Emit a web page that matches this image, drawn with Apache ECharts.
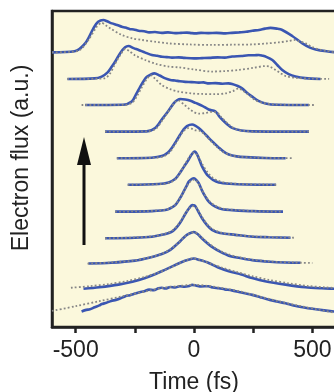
<!DOCTYPE html>
<html>
<head>
<meta charset="utf-8">
<script src="https://cdn.jsdelivr.net/npm/echarts@6/dist/echarts.min.js"></script>
<style>
  html, body { margin: 0; padding: 0; background: #ffffff; }
  #chart { width: 334px; height: 392px; }
</style>
</head>
<body>
<div id="chart"></div>
<script>
// Time-resolved electron flux traces, stacked from bottom (earliest) to top.
// Each trace: [time in fs, flux above its own baseline in a.u.]

// vertical stacking offset of each trace (bottom to top)
const offsets = [0.37, 1.39, 2.41, 3.37, 4.38, 5.40, 6.41, 7.42, 8.43, 9.42, 10.43];

// measured traces (solid blue), bottom to top
const measured11 = [[-475,0.22],[-455,0.28],[-440,0.30],[-420,0.38],[-400,0.45],[-390,0.50],[-370,0.55],[-350,0.62],[-330,0.66],[-310,0.72],[-290,0.80],[-270,0.84],[-249,0.90],[-230,0.95],[-210,0.99],[-190,1.05],[-170,1.03],[-150,1.10],[-136,1.12],[-120,1.09],[-100,1.15],[-80,1.13],[-60,1.18],[-40,1.16],[-20,1.19],[-8,1.23],[10,1.20],[30,1.17],[60,1.18],[80,1.13],[105,1.10],[130,1.06],[160,1.02],[190,0.96],[220,0.90],[246,0.85],[280,0.76],[320,0.66],[350,0.60],[387,0.53],[420,0.45],[460,0.38],[500,0.32],[550,0.26],[600,0.21]];
const measured10 = [[-467,0.06],[-400,0.12],[-319,0.22],[-260,0.33],[-206,0.47],[-160,0.63],[-121,0.79],[-85,0.94],[-51,1.08],[-20,1.17],[-1,1.21],[25,1.15],[62,1.04],[100,0.88],[147,0.73],[200,0.60],[246,0.47],[300,0.35],[387,0.22],[470,0.12],[540,0.08],[600,0.06]];
const measured9 = [[-446,0],[-350,0.03],[-249,0.11],[-190,0.22],[-136,0.36],[-100,0.52],[-65,0.79],[-45,0.97],[-30,1.09],[-1,1.20],[15,1.12],[34,0.95],[55,0.78],[76,0.63],[110,0.45],[147,0.30],[200,0.20],[246,0.13],[320,0.07],[387,0.04],[450,0.03]];
const measured8 = [[-376,0],[-250,0.02],[-178,0.06],[-130,0.14],[-93,0.25],[-70,0.45],[-51,0.70],[-35,0.95],[-20,1.15],[-8,1.26],[2,1.25],[15,1.07],[34,0.76],[55,0.50],[76,0.32],[110,0.20],[175,0.13],[250,0.06],[317,0.04],[408,0.02]];
const measured7 = [[-333,0],[-200,0.01],[-121,0.06],[-100,0.13],[-79,0.25],[-60,0.50],[-44,0.76],[-30,1.00],[-22,1.14],[-8,1.25],[0,1.27],[10,1.20],[20,1.08],[34,0.80],[48,0.57],[65,0.35],[90,0.19],[120,0.09],[161,0.06],[250,0.02],[376,0]];
const measured6 = [[-280,0],[-150,0.03],[-107,0.09],[-80,0.22],[-65,0.38],[-50,0.58],[-37,0.76],[-23,0.95],[-10,1.15],[3,1.26],[15,1.12],[34,0.70],[50,0.45],[62,0.32],[80,0.19],[105,0.09],[150,0.04],[220,0.01],[347,0]];
const measured5 = [[-326,0],[-180,0.02],[-136,0.08],[-110,0.22],[-93,0.40],[-75,0.65],[-58,0.90],[-45,1.08],[-30,1.22],[-8,1.28],[5,1.24],[20,1.15],[40,0.98],[62,0.77],[85,0.57],[105,0.40],[125,0.25],[147,0.14],[180,0.07],[218,0.04],[300,0.01],[387,0]];
const measured4 = [[-376,0],[-200,0.01],[-164,0.14],[-136,0.46],[-107,0.80],[-85,1.08],[-70,1.20],[-58,1.24],[-37,1.22],[-15,1.17],[6,1.09],[35,0.98],[62,0.84],[90,0.77],[105,0.60],[119,0.46],[140,0.28],[161,0.14],[200,0.04],[246,0.01],[486,0]];
const measured3 = [[-460,0],[-300,0.01],[-263,0.13],[-245,0.40],[-227,0.70],[-210,0.95],[-199,1.07],[-180,1.17],[-167,1.20],[-145,1.12],[-121,1.01],[-100,0.95],[-80,0.93],[-60,0.90],[-37,0.88],[-10,0.87],[20,0.85],[40,0.86],[62,0.82],[90,0.83],[120,0.81],[145,0.82],[161,0.80],[185,0.72],[203,0.63],[225,0.46],[246,0.32],[270,0.17],[302,0.06],[350,0.01],[486,0]];
const measured2 = [[-535,0],[-420,0.02],[-390,0.09],[-365,0.25],[-347,0.47],[-330,0.70],[-312,0.98],[-291,1.20],[-277,1.25],[-255,1.17],[-234,1.10],[-206,1.00],[-178,0.91],[-155,0.88],[-135,0.84],[-115,0.83],[-93,0.81],[-65,0.82],[-40,0.80],[0,0.78],[34,0.79],[65,0.80],[100,0.82],[130,0.81],[161,0.85],[200,0.87],[230,0.90],[255,0.90],[274,0.91],[290,0.88],[305,0.84],[331,0.72],[352,0.53],[373,0.34],[400,0.18],[429,0.09],[470,0.03],[535,0]];
const measured1 = [[-600,0],[-505,0.04],[-460,0.34],[-425,0.91],[-405,1.16],[-383,1.23],[-365,1.17],[-347,1.10],[-325,1.04],[-305,0.97],[-290,0.94],[-270,0.88],[-255,0.87],[-234,0.82],[-210,0.80],[-190,0.76],[-165,0.77],[-136,0.74],[-110,0.76],[-80,0.73],[-55,0.74],[-30,0.75],[-10,0.73],[6,0.72],[30,0.74],[60,0.73],[95,0.74],[133,0.72],[160,0.74],[190,0.76],[220,0.78],[246,0.82],[275,0.85],[300,0.90],[323,0.93],[350,0.90],[373,0.85],[415,0.62],[458,0.34],[490,0.18],[514,0.11],[560,0.04],[600,0]];

// simulated traces (grey dotted), bottom to top
const simulated11 = [[-600,0.24],[-500,0.42],[-400,0.61],[-300,0.80],[-200,0.99],[-136,1.11],[-60,1.19],[0,1.23],[60,1.19],[130,1.09],[200,0.97],[280,0.78],[360,0.60],[440,0.44],[520,0.30],[585,0.19]];
const simulated10 = [[-520,0.10],[-440,0.16],[-360,0.24],[-280,0.36],[-206,0.52],[-150,0.68],[-100,0.86],[-60,1.04],[-30,1.15],[-5,1.22],[25,1.16],[70,1.02],[120,0.86],[180,0.70],[250,0.53],[316,0.40],[400,0.27],[480,0.17],[560,0.11],[600,0.09]];
const simulated9 = [[-450,0],[-350,0.04],[-249,0.12],[-190,0.23],[-136,0.37],[-100,0.54],[-65,0.80],[-40,1.02],[-15,1.16],[0,1.19],[20,1.10],[40,0.93],[65,0.74],[95,0.56],[130,0.40],[180,0.26],[246,0.15],[320,0.08],[420,0.04],[500,0.02]];
const simulated8 = [[-376,0],[-250,0.03],[-178,0.07],[-130,0.15],[-93,0.28],[-70,0.48],[-50,0.74],[-32,1.00],[-15,1.17],[0,1.22],[15,1.10],[34,0.80],[55,0.54],[80,0.34],[115,0.21],[175,0.13],[250,0.07],[330,0.04],[422,0.02]];
const simulated7 = [[-333,0],[-200,0.02],[-121,0.07],[-100,0.14],[-79,0.27],[-58,0.52],[-40,0.82],[-25,1.05],[-8,1.20],[2,1.22],[15,1.12],[30,0.88],[48,0.60],[68,0.37],[95,0.20],[130,0.10],[180,0.06],[260,0.02],[376,0]];
const simulated6 = [[-280,0],[-140,0.03],[-100,0.09],[-75,0.24],[-55,0.52],[-35,0.82],[-15,1.12],[0,1.22],[15,1.12],[35,0.78],[55,0.50],[75,0.30],[100,0.16],[140,0.07],[200,0.03],[300,0.01],[347,0]];
const simulated5 = [[-326,0],[-170,0.02],[-130,0.07],[-105,0.20],[-85,0.45],[-65,0.75],[-45,1.02],[-25,1.14],[-10,1.12],[5,1.06],[25,1.04],[45,0.90],[70,0.66],[95,0.44],[120,0.26],[150,0.13],[190,0.06],[260,0.02],[415,0]];
const simulated4 = [[-376,0],[-195,0.01],[-160,0.12],[-130,0.48],[-100,0.88],[-80,1.12],[-65,1.18],[-45,1.05],[-20,0.86],[0,0.74],[20,0.68],[45,0.70],[75,0.75],[95,0.74],[115,0.55],[147,0.27],[175,0.10],[210,0.03],[260,0],[486,0]];
const simulated3 = [[-475,0],[-290,0.01],[-260,0.10],[-240,0.35],[-220,0.68],[-200,0.98],[-182,1.13],[-165,1.00],[-136,0.76],[-100,0.60],[-65,0.51],[-10,0.44],[34,0.42],[90,0.41],[133,0.44],[165,0.53],[189,0.63],[205,0.55],[232,0.38],[260,0.18],[290,0.09],[340,0.02],[514,0]];
const simulated2 = [[-535,0],[-380,0.02],[-355,0.20],[-335,0.55],[-312,0.90],[-290,1.14],[-272,1.05],[-250,0.90],[-206,0.72],[-160,0.57],[-107,0.47],[-65,0.44],[0,0.36],[76,0.28],[130,0.30],[189,0.34],[250,0.42],[302,0.49],[320,0.47],[345,0.34],[365,0.22],[387,0.11],[430,0.04],[500,0.01],[571,0]];
const simulated1 = [[-600,0],[-520,0.02],[-482,0.09],[-446,0.47],[-411,0.97],[-390,1.12],[-372,1.02],[-354,0.91],[-305,0.66],[-260,0.53],[-220,0.47],[-160,0.40],[-107,0.34],[-20,0.30],[76,0.28],[160,0.29],[246,0.30],[310,0.34],[359,0.38],[400,0.43],[422,0.47],[445,0.42],[472,0.34],[500,0.20],[528,0.11],[560,0.05],[600,0]];

// axis ticks
const majorTicks = [-500, 0, 500];
const allTicks = [-500, -250, 0, 250, 500];

const measured = [measured11, measured10, measured9, measured8, measured7, measured6, measured5, measured4, measured3, measured2, measured1];
const simulated = [simulated11, simulated10, simulated9, simulated8, simulated7, simulated6, simulated5, simulated4, simulated3, simulated2, simulated1];

const lift = (pts, off) => pts.map(p => [p[0], p[1] + off]);

const series = [];
measured.forEach((pts, i) => {
  series.push({
    type: 'line', data: lift(pts, offsets[i]), smooth: 0.3,
    symbol: 'none', silent: true, z: 2,
    lineStyle: { color: '#3a56b2', width: 2.6 }
  });
});
simulated.forEach((pts, i) => {
  series.push({
    type: 'line', data: lift(pts, offsets[i]), smooth: 0.3,
    symbol: 'none', silent: true, z: 3,
    lineStyle: { color: '#868686', width: 1.8, type: [1.8, 2.2] }
  });
});

const font = '"Liberation Sans", Arial, sans-serif';
const chart = echarts.init(document.getElementById('chart'));
chart.setOption({
  animation: false,
  backgroundColor: '#ffffff',
  grid: {
    left: 52, top: 11, width: 284, height: 316,
    outerBoundsMode: 'none', containLabel: false,
    show: true, backgroundColor: '#fbf8dc',
    borderColor: '#222222', borderWidth: 2.5
  },
  xAxis: {
    type: 'value', min: -600, max: 600,
    name: 'Time (fs)', nameLocation: 'middle', nameGap: 44,
    nameTextStyle: { fontFamily: font, fontSize: 23, color: '#222222' },
    axisLine: { show: true, onZero: false, lineStyle: { color: '#222222', width: 2.5 } },
    axisTick: { show: true, customValues: allTicks, length: 6, lineStyle: { color: '#222222', width: 2.5 } },
    axisLabel: { customValues: majorTicks, fontFamily: font, fontSize: 23, color: '#222222', margin: 12 },
    splitLine: { show: false }
  },
  yAxis: {
    type: 'value', min: 0, max: 12,
    name: 'Electron flux (a.u.)', nameLocation: 'middle', nameGap: 19,
    nameTextStyle: { fontFamily: font, fontSize: 23, color: '#222222', padding: [0, 0, 0, 22] },
    axisLine: { show: true, onZero: false, lineStyle: { color: '#222222', width: 2.5 } },
    axisTick: { show: false },
    axisLabel: { show: false },
    splitLine: { show: false }
  },
  graphic: [
    { type: 'line', shape: { x1: 84, y1: 245, x2: 84, y2: 160 }, style: { stroke: '#111111', lineWidth: 3 }, z: 10 },
    { type: 'polygon', shape: { points: [[77, 165], [91, 165], [84, 137]] }, style: { fill: '#111111' }, z: 10 }
  ],
  series: series
});
</script>
</body>
</html>
